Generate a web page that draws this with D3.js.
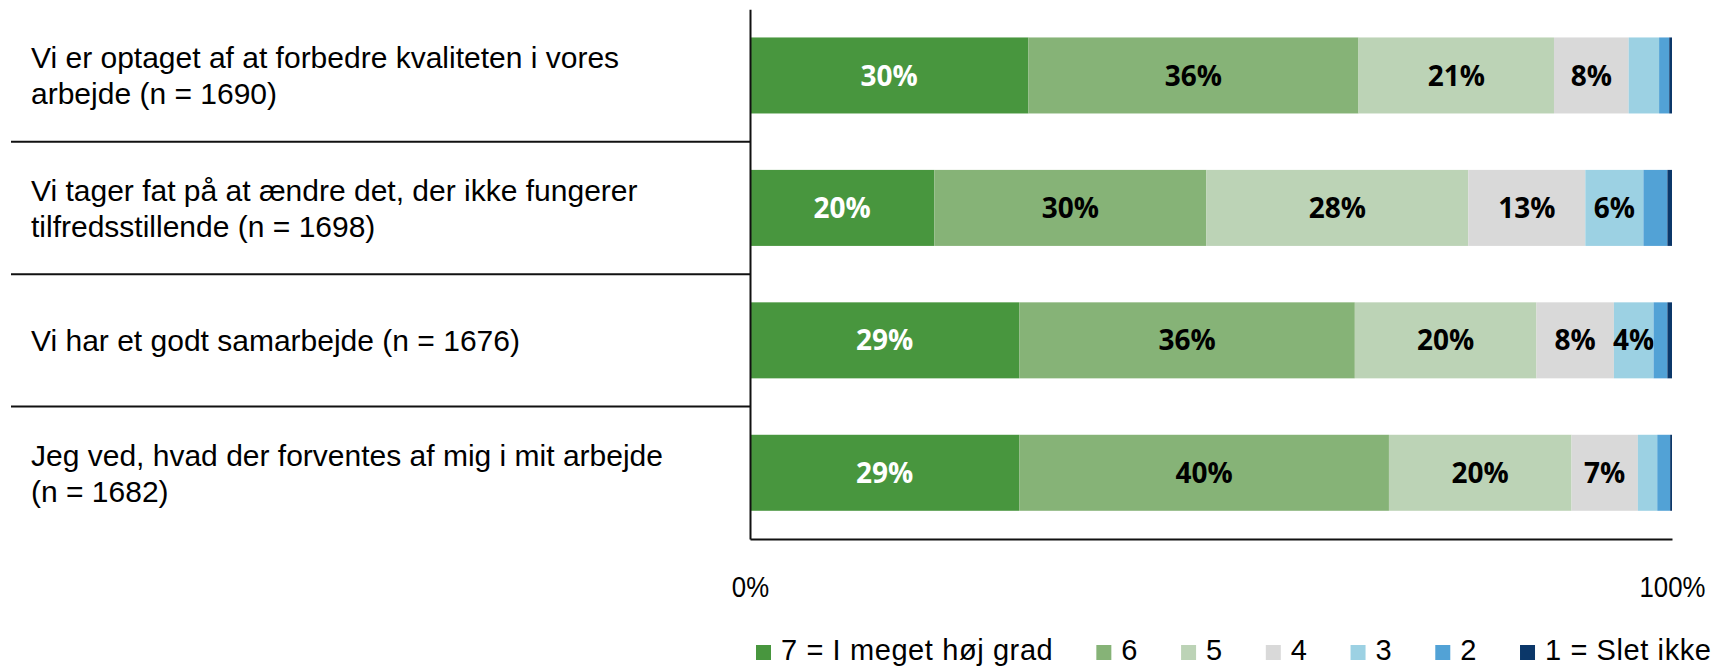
<!DOCTYPE html>
<html><head><meta charset="utf-8">
<script src="https://cdn.jsdelivr.net/npm/d3@7"></script>
<style>body{margin:0;background:#fff}svg{display:block}</style>
</head><body><svg id="c" width="1716" height="667"></svg>
<script>
// ---- data ----
const categories = [
  "Vi er optaget af at forbedre kvaliteten i vores|arbejde (n = 1690)",
  "Vi tager fat på at ændre det, der ikke fungerer|tilfredsstillende (n = 1698)",
  "Vi har et godt samarbejde (n = 1676)",
  "Jeg ved, hvad der forventes af mig i mit arbejde|(n = 1682)"
];
const seriesNames = ["7 = I meget høj grad", "6", "5", "4", "3", "2", "1 = Slet ikke"];
const s7 = [30.2, 20.0, 29.2, 29.2];
const s6 = [35.8, 29.5, 36.4, 40.1];
const s5 = [21.2, 28.4, 19.7, 19.8];
const s4 = [8.1, 12.7, 8.4, 7.2];
const s3 = [3.3, 6.3, 4.3, 2.1];
const s2 = [1.1, 2.6, 1.5, 1.4];
const s1 = [0.3, 0.5, 0.5, 0.2];
const tickValues = [0, 100];
const tickLabels = ["0%", "100%"];
const colors = ["#48963e", "#86b377", "#bcd3b6", "#d9d9d9", "#9cd1e3", "#52a2d6", "#0b3769"];

// ---- layout ----
const svg = d3.select("#c");
const X0 = 750, X1 = 1672, Y0 = 9.25, Y1 = 539;
const seriesVals = [s7, s6, s5, s4, s3, s2, s1];
const rows = categories.map((c, i) => {
  const r = {cat: c};
  seriesNames.forEach((s, j) => r[s] = seriesVals[j][i]);
  return r;
});
const stack = d3.stack().keys(seriesNames)(rows);

const x = d3.scaleLinear().domain([0, 100]).range([X0, X1]);
const y = d3.scaleBand().domain(categories).range([Y0, Y1]).paddingInner(0.426).paddingOuter(0.213);

// separators
const step = y.step();
svg.append("g").selectAll("line").data(categories.slice(1)).join("line")
  .attr("x1", 11).attr("x2", X0)
  .attr("y1", d => y(d) - y.paddingInner() * step / 2)
  .attr("y2", d => y(d) - y.paddingInner() * step / 2)
  .attr("stroke", "#111").attr("stroke-width", 2);

// bars
const g = svg.append("g");
stack.forEach((layer, j) => {
  const lg = g.append("g");
  lg.selectAll("rect").data(layer).join("rect")
    .attr("x", d => x(d[0]))
    .attr("width", d => x(d[1]) - x(d[0]))
    .attr("y", d => y(d.data.cat))
    .attr("height", y.bandwidth())
    .attr("fill", colors[j]);
  lg.selectAll("text").data(layer.filter(d => d[1] - d[0] >= 3.5)).join("text")
    .attr("x", d => (x(d[0]) + x(d[1])) / 2)
    .attr("y", d => y(d.data.cat) + y.bandwidth() / 2)
    .attr("dy", "0.36em")
    .attr("text-anchor", "middle")
    .attr("font-family", "'Open Sans', sans-serif")
    .attr("font-weight", "bold")
    .attr("font-size", 28)
    .attr("fill", j === 0 ? "#fff" : "#000")
    .text(d => Math.round(d[1] - d[0]) + "%");
});

// category labels
const lab = svg.append("g").attr("font-family", "'Liberation Sans', Arial, sans-serif").attr("font-size", 30).attr("fill", "#000");
categories.forEach(c => {
  const lines = c.split("|");
  const cy = y(c) + y.bandwidth() / 2;
  const lh = 36;
  const t = lab.append("text").attr("x", 31);
  lines.forEach((ln, k) => {
    t.append("tspan").attr("x", 31)
      .attr("y", cy + (k - (lines.length - 1) / 2) * lh)
      .attr("dy", "0.36em").text(ln);
  });
});

// y axis (vertical line)
const ya = svg.append("g").attr("transform", `translate(${X0},0)`)
  .call(d3.axisLeft(y).tickSize(0).tickFormat(""));
ya.select(".domain").attr("stroke", "#111").attr("stroke-width", 2);

// x axis
const xa = svg.append("g").attr("transform", `translate(0,${Y1})`)
  .call(d3.axisBottom(x).tickValues(tickValues).tickSize(0).tickPadding(37)
    .tickFormat((d, i) => tickLabels[i]));
xa.select(".domain").attr("stroke", "#111").attr("stroke-width", 2);
xa.selectAll("text").attr("font-family", "'Liberation Sans', sans-serif")
  .attr("font-size", 30).attr("fill", "#000").attr("transform", "scale(0.86,1)");

// legend
const leg = svg.append("g").attr("font-family", "'Liberation Sans', sans-serif")
  .attr("font-size", 29).attr("letter-spacing", 0.6);
let lx = 756;
const ly = 660;
seriesNames.forEach((s, j) => {
  leg.append("rect").attr("x", lx).attr("y", ly - 15).attr("width", 15).attr("height", 15).attr("fill", colors[j]);
  const t = leg.append("text").attr("x", lx + 25).attr("y", ly).attr("fill", "#000").text(s);
  lx = lx + 25 + t.node().getComputedTextLength() + 43;
});
</script></body></html>
